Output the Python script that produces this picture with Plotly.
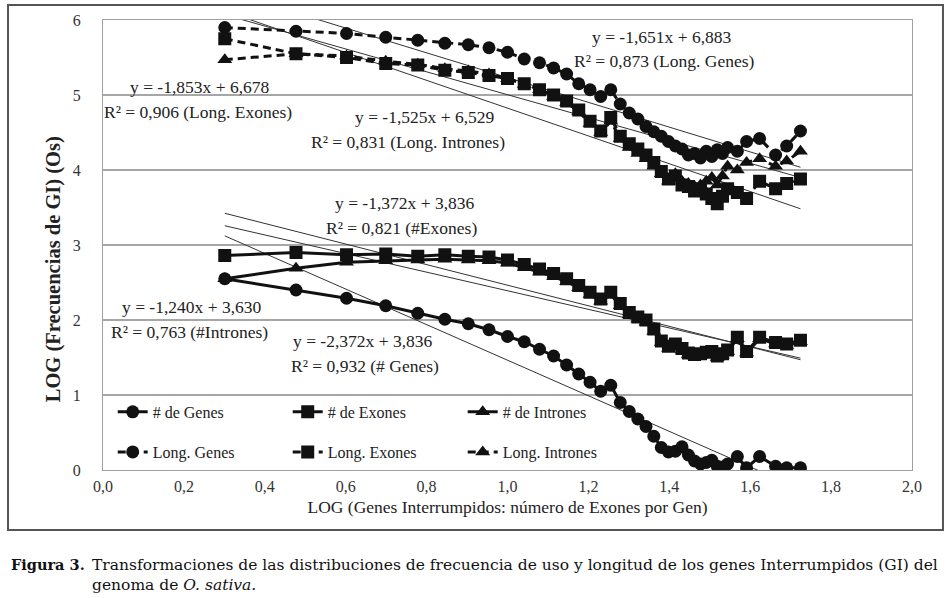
import numpy as np
import plotly.graph_objects as go

# numero de exones por gen (eje x = log10)
n_exones = [2, 3, 4, 5, 6, 7, 8, 9, 10, 11, 12, 13, 14, 15, 16, 17, 18, 19, 20, 21,
            22, 23, 24, 25, 26, 27, 28, 29, 30, 31, 32, 33, 34, 35, 37, 39, 42, 46, 49, 53]

num_genes = [2.55, 2.40, 2.29, 2.19, 2.09, 2.01, 1.95, 1.87, 1.78, 1.71,
             1.61, 1.52, 1.40, 1.28, 1.17, 1.05, 1.13, 0.90, 0.78, 0.68,
             0.58, 0.45, 0.30, 0.24, 0.25, 0.31, 0.20, 0.12, 0.08, 0.10,
             0.13, 0.05, 0.04, 0.08, 0.18, 0.03, 0.18, 0.05, 0.03, 0.03]
num_exones = [2.86, 2.90, 2.87, 2.88, 2.85, 2.87, 2.85, 2.84, 2.80, 2.74,
              2.68, 2.62, 2.55, 2.46, 2.37, 2.28, 2.37, 2.22, 2.10, 2.04,
              2.00, 1.88, 1.72, 1.65, 1.68, 1.62, 1.56, 1.54, 1.55, 1.57,
              1.58, 1.52, 1.55, 1.60, 1.77, 1.58, 1.77, 1.70, 1.68, 1.73]
num_intrones = [2.55, 2.69, 2.77, 2.79, 2.80, 2.81, 2.80, 2.79, 2.76, 2.70,
                2.64, 2.58, 2.51, 2.43, 2.34, 2.25, 2.34, 2.19, 2.07, 2.01,
                1.97, 1.85, 1.70, 1.62, 1.65, 1.60, 1.54, 1.52, 1.53, 1.55,
                1.56, 1.50, 1.53, 1.58, 1.75, 1.56, 1.75, 1.68, 1.66, 1.71]
long_genes = [5.90, 5.85, 5.82, 5.77, 5.73, 5.69, 5.67, 5.63, 5.57, 5.48,
              5.43, 5.36, 5.28, 5.15, 5.07, 4.98, 5.07, 4.88, 4.76, 4.68,
              4.58, 4.51, 4.45, 4.38, 4.32, 4.28, 4.20, 4.22, 4.16, 4.25,
              4.18, 4.27, 4.22, 4.30, 4.25, 4.38, 4.42, 4.20, 4.32, 4.52]
long_exones = [5.75, 5.55, 5.50, 5.42, 5.40, 5.33, 5.30, 5.26, 5.22, 5.15,
               5.07, 5.00, 4.92, 4.80, 4.65, 4.52, 4.70, 4.45, 4.35, 4.28,
               4.20, 4.10, 3.98, 3.88, 3.92, 3.80, 3.78, 3.72, 3.75, 3.68,
               3.62, 3.55, 3.65, 3.75, 3.70, 3.62, 3.85, 3.75, 3.82, 3.88]
long_intrones = [5.47, 5.55, 5.52, 5.45, 5.41, 5.35, 5.32, 5.28, 5.22, 5.14,
                 5.07, 4.98, 4.90, 4.78, 4.62, 4.50, 4.65, 4.42, 4.30, 4.22,
                 4.15, 4.05, 3.95, 3.85, 3.95, 3.85, 3.82, 3.78, 3.80, 3.85,
                 3.90, 3.80, 3.92, 4.05, 4.00, 4.10, 4.15, 4.05, 4.12, 4.25]

# lineas de tendencia (pendiente, ordenada)
tend_long_genes = (-1.651, 6.883)
tend_long_exones = (-1.853, 6.678)
tend_long_intrones = (-1.525, 6.529)
tend_num_exones = (-1.372, 3.836)
tend_num_intrones = (-1.240, 3.630)
tend_num_genes = (-2.372, 3.836)

x = np.log10(n_exones)

SERIF = "Liberation Serif"
INK = "#111111"

fig = go.Figure()

# trendlines (thin)
for slope, icpt in [tend_long_genes, tend_long_exones, tend_long_intrones,
                    tend_num_exones, tend_num_intrones, tend_num_genes]:
    xs = [x.min(), x.max()]
    fig.add_trace(go.Scatter(
        x=xs, y=[slope * v + icpt for v in xs], mode="lines",
        line=dict(color="#333333", width=1), showlegend=False, hoverinfo="skip"))

series = [
    ("# de Genes", num_genes, "circle", "solid", "legend"),
    ("# de Exones", num_exones, "square", "solid", "legend"),
    ("# de Intrones", num_intrones, "triangle-up", "solid", "legend"),
    ("Long. Genes", long_genes, "circle", "8px,5px", "legend2"),
    ("Long. Exones", long_exones, "square", "8px,5px", "legend2"),
    ("Long. Intrones", long_intrones, "triangle-up", "8px,5px", "legend2"),
]
for name, vals, sym, dash, leg in series:
    fig.add_trace(go.Scatter(
        x=x, y=vals, name=name, mode="lines+markers", legend=leg,
        line=dict(color=INK, width=3, dash=dash),
        marker=dict(symbol=sym, size=13, color=INK)))

eqs = [
    ("y = -1,651x + 6,883", "R² = 0,873 (Long. Genes)", 1.383, 5.77, 1.388, 5.45),
    ("y = -1,853x + 6,678", "R² = 0,906 (Long. Exones)", 0.240, 5.11, 0.235, 4.77),
    ("y = -1,525x + 6,529", "R² = 0,831 (Long. Intrones)", 0.795, 4.71, 0.753, 4.37),
    ("y = -1,372x + 3,836", "R² = 0,821 (#Exones)", 0.746, 3.56, 0.738, 3.23),
    ("y = -1,240x + 3,630", "R² = 0,763 (#Intrones)", 0.220, 2.17, 0.215, 1.84),
    ("y = -2,372x + 3,836", "R² = 0,932 (# Genes)", 0.642, 1.72, 0.647, 1.39),
]
for t1, t2, x1, y1, x2, y2 in eqs:
    for t, xx, yy in [(t1, x1, y1), (t2, x2, y2)]:
        fig.add_annotation(x=xx, y=yy, text=t, showarrow=False,
                           font=dict(family=SERIF, size=17.5, color="#222222"))

# titulo eje y (centrado como en el original, algo por debajo del centro)
fig.add_annotation(xref="paper", yref="paper", x=-0.078, y=0.447,
                   textangle=-90, showarrow=False,
                   text="<b>LOG (Frecuencias de GI) (Os)</b>",
                   font=dict(family=SERIF, size=20.5, color="#222222"))

# marco exterior
fig.add_shape(type="rect", xref="paper", yref="paper",
              x0=-0.1174, x1=1.0383, y0=-0.1333, y1=1.0333,
              line=dict(color="#555555", width=2))

# pie de figura
cap_font = dict(family="DejaVu Serif", size=15.5, color="#111111")
fig.add_annotation(xref="paper", yref="paper", x=-0.1162, y=-0.211,
                   xanchor="left", yanchor="middle", showarrow=False,
                   text="<b>Figura 3.</b>",
                   font=dict(family="DejaVu Serif", size=14.5, color="#111111"))
fig.add_annotation(xref="paper", yref="paper", x=-0.0161, y=-0.211,
                   xanchor="left", yanchor="middle", showarrow=False,
                   text="Transformaciones de las distribuciones de frecuencia de uso y longitud de los genes Interrumpidos (GI) del",
                   font=cap_font)
fig.add_annotation(xref="paper", yref="paper", x=-0.0161, y=-0.256,
                   xanchor="left", yanchor="middle", showarrow=False,
                   text="genoma de <i>O. sativa</i>.", font=cap_font)

legend_style = dict(orientation="h", xanchor="left", yanchor="middle",
                    entrywidth=130, bgcolor="rgba(0,0,0,0)", borderwidth=0,
                    font=dict(family=SERIF, size=16, color="#222222"),
                    itemclick=False)

fig.update_layout(
    width=949, height=598,
    margin=dict(l=103, r=37, t=20, b=128, autoexpand=False),
    paper_bgcolor="white", plot_bgcolor="white",
    separators=",.",
    showlegend=True,
    legend=dict(x=0.012, y=0.129, **legend_style),
    legend2=dict(x=0.012, y=0.04, **legend_style),
    font=dict(family=SERIF, color="#222222"),
)
fig.update_xaxes(range=[0, 2], dtick=0.2, tickformat=".1f", automargin=False,
                 showgrid=False, zeroline=False,
                 showline=True, mirror=True, linecolor="#a0a0a0", linewidth=1,
                 tickfont=dict(family=SERIF, size=16, color="#333333"),
                 ticklabelstandoff=2,
                 title=dict(text="LOG (Genes Interrumpidos: número de Exones por Gen)",
                            font=dict(family=SERIF, size=17.5, color="#222222"),
                            standoff=6))
fig.update_yaxes(range=[0, 6], dtick=1, automargin=False,
                 showgrid=True, gridcolor="#a6a6a6", gridwidth=1.5, zeroline=False,
                 showline=True, mirror=True, linecolor="#a0a0a0", linewidth=1,
                 tickfont=dict(family=SERIF, size=16, color="#333333"),
                 ticklabelstandoff=18)

# drop the default 8px page margin so the figure sits at the window corner
fig.write_html("out.html", config={"displayModeBar": False},
               post_script="document.body.style.margin='0';")
